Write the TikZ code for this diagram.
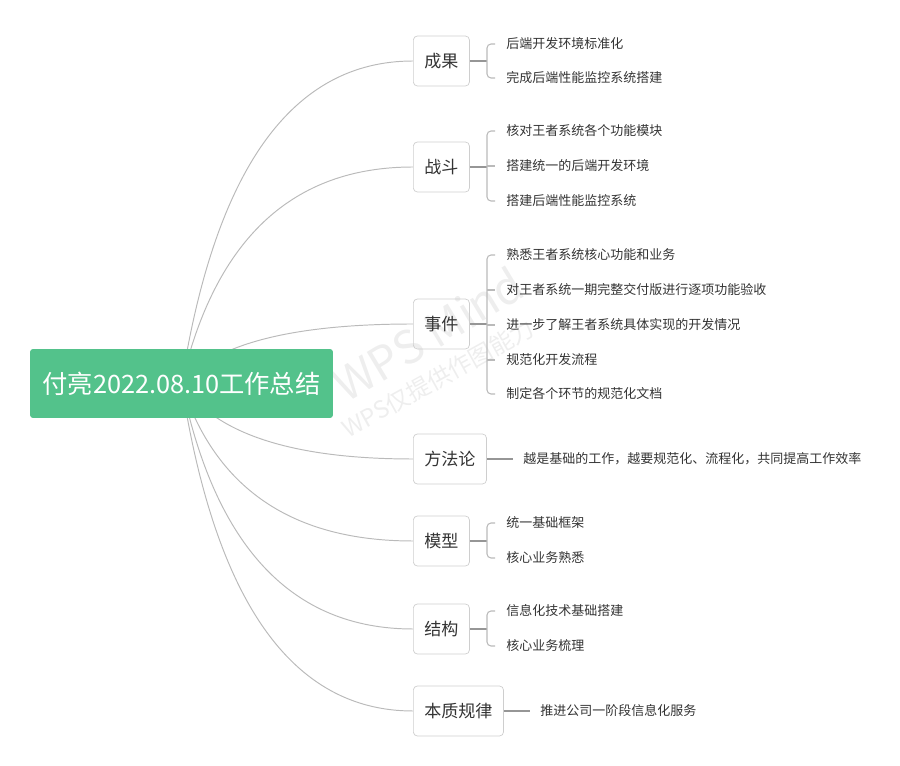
\documentclass[tikz,border=0pt]{standalone}
\usepackage{fontspec}
\setmainfont{Noto Sans CJK SC}
\usetikzlibrary{positioning, calc, backgrounds}
\definecolor{rootgreen}{RGB}{83, 194, 139}
\definecolor{boxgray}{RGB}{206, 206, 206}
\definecolor{linegray}{RGB}{186, 186, 186}
\definecolor{stemgray}{RGB}{150, 150, 150}
\definecolor{textgray}{RGB}{51, 51, 51}
\definecolor{markgray}{RGB}{238, 238, 238}

\begin{document}
\begin{tikzpicture}[x=0.02cm, y=-0.02cm,
    topic/.style={draw=boxgray, rounded corners=0.08cm, minimum height=1cm, inner xsep=0.22cm, anchor=west, text=textgray, font=\fontsize{9.7pt}{11pt}\selectfont},
    leaf/.style={anchor=west, inner sep=0pt, text=textgray, font=\fontsize{7.4pt}{9pt}\selectfont},
    trunk/.style={draw=linegray, line width=0.55pt},
    stem/.style={draw=stemgray, line width=0.6pt},
    brace/.style={draw=linegray, line width=0.6pt, rounded corners=0.08cm}]
    \useasboundingbox (0,0) rectangle (900,766);

    % Central topic
    \node[fill=rootgreen, rounded corners=0.06cm, minimum width=6.06cm, minimum height=1.38cm, text=white, font=\fontsize{14.4pt}{16pt}\selectfont] (root) at (181.5,383.5) {付亮2022.08.10工作总结};

    % Main branches
    \node[topic] (cg) at (413,61) {成果};
    \node[topic] (zd) at (413,167) {战斗};
    \node[topic] (sj) at (413,324) {事件};
    \node[topic] (ffl) at (413,459) {方法论};
    \node[topic] (mx) at (413,541) {模型};
    \node[topic] (jg) at (413,629) {结构};
    \node[topic] (bzgl) at (413,711) {本质规律};

    % Sub topics
    \node[leaf] (cg1) at (506,44) {后端开发环境标准化};
    \node[leaf] (cg2) at (506,78) {完成后端性能监控系统搭建};
    \node[leaf] (zd1) at (506,131) {核对王者系统各个功能模块};
    \node[leaf] (zd2) at (506,166) {搭建统一的后端开发环境};
    \node[leaf] (zd3) at (506,201) {搭建后端性能监控系统};
    \node[leaf] (sj1) at (506,255) {熟悉王者系统核心功能和业务};
    \node[leaf] (sj2) at (506,290) {对王者系统一期完整交付版进行逐项功能验收};
    \node[leaf] (sj3) at (506,325) {进一步了解王者系统具体实现的开发情况};
    \node[leaf] (sj4) at (506,360) {规范化开发流程};
    \node[leaf] (sj5) at (506,394) {制定各个环节的规范化文档};
    \node[leaf] (ffl1) at (523,459) {越是基础的工作，越要规范化、流程化，共同提高工作效率};
    \node[leaf] (mx1) at (506,523) {统一基础框架};
    \node[leaf] (mx2) at (506,558) {核心业务熟悉};
    \node[leaf] (jg1) at (506,611) {信息化技术基础搭建};
    \node[leaf] (jg2) at (506,646) {核心业务梳理};
    \node[leaf] (bzgl1) at (540,711) {推进公司一阶段信息化服务};

    % Curves from the centre, watermark behind everything
    \coordinate (hub) at (232,0);
    \begin{scope}[on background layer]
        \node[rotate=31, text=markgray, font=\fontsize{26pt}{28pt}\selectfont] (mark) at (428,334) {WPS Mind};
        \node[rotate=29, text=markgray, font=\fontsize{13.5pt}{15pt}\selectfont] (markcn) at (438,378) {WPS仅提供作图能力};
        \foreach \b in {cg,zd,sj,ffl,mx,jg,bzgl}
            \draw[trunk] (root.center) .. controls ($(root.center)!0.667!(hub |- \b.west)$) and ($(\b.west)!0.667!(hub |- \b.west)$) .. (\b.west);
    \end{scope}

    % Brackets
    \foreach \b/\f/\l in {cg/cg1/cg2, zd/zd1/zd3, sj/sj1/sj5, mx/mx1/mx2, jg/jg1/jg2} {
        \draw[stem, shorten >=0.38cm] (\b.east) -- (\b.east -| \f.west);
        \draw[brace] ($(\f.west)+(-11,0)$) -| ($(\l.west)+(-19,0)$) -- ($(\l.west)+(-11,0)$);
    }
    \foreach \m in {zd2,sj2,sj3,sj4}
        \draw[brace] ($(\m.west)+(-19,0)$) -- ($(\m.west)+(-11,0)$);
    \draw[stem, shorten >=0.2cm] (ffl.east) -- (ffl1.west);
    \draw[stem, shorten >=0.2cm] (bzgl.east) -- (bzgl1.west);
\end{tikzpicture}
\end{document}
